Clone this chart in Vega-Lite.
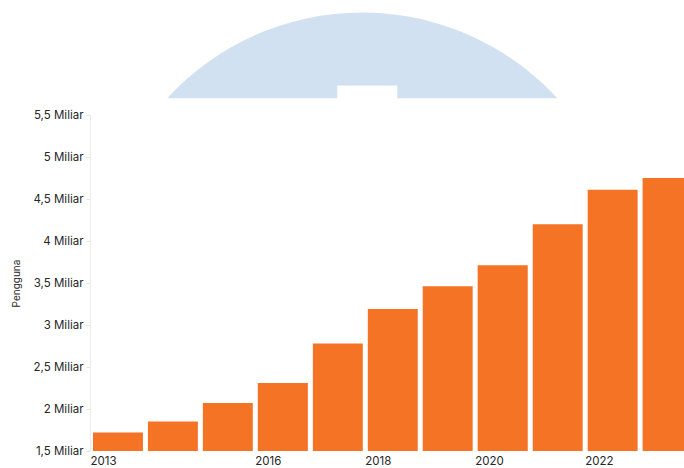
{
  "$schema": "https://vega.github.io/schema/vega-lite/v6.json",
  "width": 594,
  "height": 336,
  "autosize": {"type": "none"},
  "padding": {"left": 90, "top": 115, "right": 0, "bottom": 17},
  "background": "white",
  "config": {
    "view": {"stroke": null},
    "font": "Inter",
    "axis": {"labelFont": "Inter", "titleFont": "Inter", "labelColor": "#262626", "titleColor": "#262626"}
  },
  "datasets": {
    "users": [
      {"year": "2013", "users": 1720000000},
      {"year": "2014", "users": 1850000000},
      {"year": "2015", "users": 2070000000},
      {"year": "2016", "users": 2310000000},
      {"year": "2017", "users": 2780000000},
      {"year": "2018", "users": 3190000000},
      {"year": "2019", "users": 3460000000},
      {"year": "2020", "users": 3710000000},
      {"year": "2021", "users": 4200000000},
      {"year": "2022", "users": 4610000000},
      {"year": "2023", "users": 4750000000}
    ],
    "logo": [{"name": "watermark"}]
  },
  "layer": [
    {
      "data": {"name": "logo"},
      "mark": {
        "type": "point",
        "filled": true,
        "clip": false,
        "color": "#d1e1f1",
        "opacity": 1,
        "size": 152100,
        "shape": "M -1 0.22 A 1.356 1.356 0 0 1 1 0.22 L 0.18 0.22 L 0.18 0.154 L -0.128 0.154 L -0.128 0.22 Z"
      },
      "encoding": {
        "x": {"datum": {"year": 2017, "month": 12, "date": 15, "utc": true}, "type": "temporal"},
        "y": {"datum": 6210000000, "type": "quantitative"}
      }
    },
    {
      "data": {"name": "users"},
      "mark": {"type": "bar", "color": "#f47325", "clip": true, "binSpacing": 5},
      "encoding": {
        "x": {
          "field": "year",
          "timeUnit": "utcyear",
          "type": "temporal",
          "scale": {
            "domain": [
              {"year": 2013, "month": 1, "date": 1, "utc": true},
              {"year": 2023, "month": 10, "date": 23, "utc": true}
            ],
            "nice": false
          },
          "axis": {
            "title": null,
            "grid": false,
            "domain": false,
            "ticks": false,
            "format": "%Y",
            "values": [
              {"year": 2013, "utc": true},
              {"year": 2016, "utc": true},
              {"year": 2018, "utc": true},
              {"year": 2020, "utc": true},
              {"year": 2022, "utc": true}
            ],
            "labelAlign": "left",
            "labelPadding": 4,
            "labelFontSize": 11.5,
            "labelFlush": false,
            "labelOverlap": false
          }
        },
        "y": {
          "field": "users",
          "type": "quantitative",
          "scale": {"domain": [1500000000, 5500000000], "nice": false, "zero": false},
          "axis": {
            "title": "Pengguna",
            "titleFontSize": 10,
            "titleFontWeight": "normal",
            "titlePadding": 12,
            "values": [1500000000, 2000000000, 2500000000, 3000000000, 3500000000, 4000000000, 4500000000, 5000000000, 5500000000],
            "labelExpr": "replace(format(datum.value / 1000000000, '.1~f'), '.', ',') + ' Miliar'",
            "labelFontSize": 11.5,
            "labelPadding": 3,
            "tickSize": 4,
            "tickColor": "#e6e6e6",
            "domainColor": "#ececec",
            "gridColor": "#ececec",
            "labelFlush": false
          }
        }
      }
    }
  ]
}
